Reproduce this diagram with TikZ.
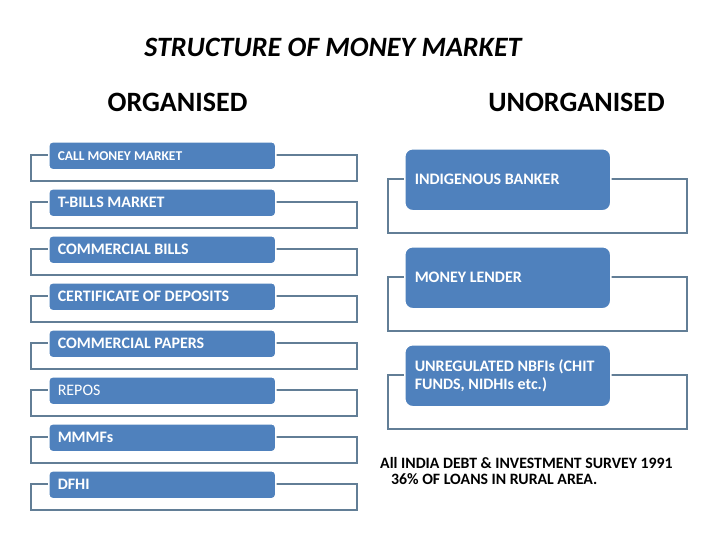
\documentclass[tikz,border=0pt]{standalone}
\usepackage{fontspec}
\setmainfont{Carlito}
\usetikzlibrary{calc}
\definecolor{boxblue}{RGB}{79,129,189}
\definecolor{frameblue}{RGB}{98,126,150}

\begin{document}
\begin{tikzpicture}[x=1pt,y=-1pt,
  item/.style={rectangle,rounded corners=4pt,fill=boxblue,draw=white,line width=1.5pt,
    text=white,font=\fontsize{16}{18}\selectfont,anchor=north west,
    text width=209pt,inner xsep=9pt,align=flush left,minimum height=28pt},
  bigitem/.style={item,rounded corners=8pt,text width=186pt,inner xsep=10pt,minimum height=62pt},
  frame/.style={draw=frameblue,line width=1.8pt},
  head/.style={font=\bfseries\fontsize{28}{32}\selectfont}]
  \useasboundingbox (0,0) rectangle (728,546);
  % titles
  \node[font=\bfseries\itshape\fontsize{28}{32}\selectfont] (title) at (333,47) {STRUCTURE OF MONEY MARKET};
  \node[head] (org) at (177.5,102) {ORGANISED};
  \node[head] (unorg) at (576.5,102) {UNORGANISED};
  % organised side
  \foreach \t [count=\i] in {{\fontsize{13.5}{16}\selectfont\bfseries CALL MONEY MARKET},\textbf{T-BILLS MARKET},\textbf{COMMERCIAL BILLS},
      \textbf{CERTIFICATE OF DEPOSITS},\textbf{COMMERCIAL PAPERS},REPOS,\textbf{MMMFs},\textbf{DFHI}}{
    \coordinate (p\i) at (48,{141+47*(\i-1)});
    \draw[frame] ($(p\i)+(-17,14)$) rectangle ($(p\i)+(309,40)$);
    \node[item] (L\i) at (p\i) {\t};
  }
  % unorganised side
  \foreach \t [count=\i] in {INDIGENOUS BANKER,MONEY LENDER,{UNREGULATED NBFIs (CHIT\\FUNDS, NIDHIs etc.)}}{
    \coordinate (q\i) at (404,{148+98*(\i-1)});
    \draw[frame] ($(q\i)+(-16,31)$) rectangle ($(q\i)+(283,85)$);
    \node[bigitem,font=\bfseries\fontsize{16}{17.5}\selectfont] (R\i) at (q\i) {\t};
  }
  % survey note
  \node[anchor=west,font=\bfseries\fontsize{15.8}{18}\selectfont,inner sep=0pt] (note1) at (380,463) {All INDIA DEBT \& INVESTMENT SURVEY 1991};
  \node[anchor=west,font=\bfseries\fontsize{15.8}{18}\selectfont,inner sep=0pt] (note2) at (391,479) {36\% OF LOANS IN RURAL AREA.};
\end{tikzpicture}
\end{document}
